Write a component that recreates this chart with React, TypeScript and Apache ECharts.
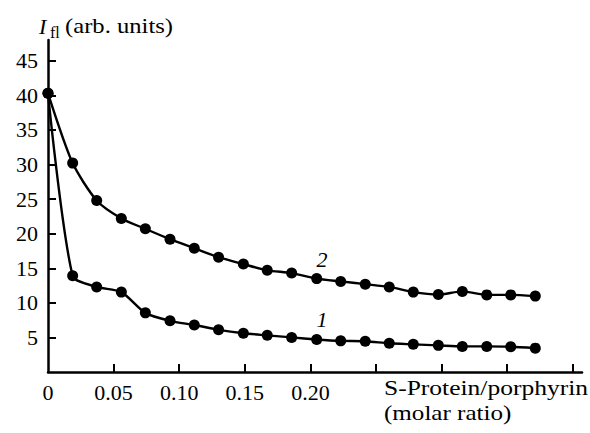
import React, { useEffect, useRef } from "react";
import * as echarts from "echarts";

const xValues = [0, 0.0188, 0.0371, 0.0559, 0.0742, 0.093, 0.1115, 0.130, 0.1489, 0.1671, 0.1857, 0.2048, 0.2231, 0.2418, 0.2601, 0.2784, 0.2975, 0.3158, 0.3344, 0.3527, 0.3714];
const series1 = [40.3, 13.9, 12.3, 11.55, 8.55, 7.4, 6.8, 6.1, 5.6, 5.3, 5.0, 4.7, 4.5, 4.45, 4.15, 4.0, 3.85, 3.7, 3.7, 3.65, 3.45];
const series2 = [40.3, 30.2, 24.8, 22.2, 20.7, 19.2, 17.9, 16.6, 15.6, 14.7, 14.3, 13.5, 13.1, 12.7, 12.3, 11.55, 11.2, 11.65, 11.15, 11.15, 10.97];
const yTicks = [5, 10, 15, 20, 25, 30, 35, 40, 45];
const xTicks = [0.05, 0.1, 0.15, 0.2, 0.25, 0.3, 0.35, 0.4];
const xLabels = [0, 0.05, 0.1, 0.15, 0.2];
const seriesNames = ["1", "2"];

const FONT = "'Liberation Serif', 'Times New Roman', serif";

export default function App() {
  const ref = useRef<HTMLDivElement>(null);
  useEffect(() => {
    if (!ref.current) return;
    const chart = echarts.init(ref.current, undefined, { renderer: "svg" });
    const mk = (vals: number[]) => xValues.map((x, i) => [x, vals[i]]);
    const lineStyle = { color: "#000", width: 2.4 };
    const txt = (text: string, x: number, y: number, size: number, extra: any = {}, scaleX = 1) => ({
      type: "text",
      x,
      y,
      scaleX,
      style: { text, fontFamily: FONT, fontSize: size, fill: "#000", verticalAlign: "middle", ...extra },
    });
    chart.setOption({
      animation: false,
      backgroundColor: "#fff",
      textStyle: { fontFamily: FONT, color: "#000" },
      grid: { left: 48, right: 8, top: 40, bottom: 61, containLabel: false },
      xAxis: {
        type: "value",
        min: 0,
        max: 0.407,
        interval: 0.05,
        splitLine: { show: false },
        axisLine: { show: true, lineStyle: { color: "#000", width: 2.5 } },
        axisTick: { show: true, inside: true, length: 8, lineStyle: { color: "#000", width: 2 }, customValues: xTicks },
        axisLabel: {
          customValues: xLabels,
          fontFamily: FONT,
          fontSize: 22,
          color: "#000",
          margin: 9,
          formatter: (v: number) => (v === 0 ? "0" : v.toFixed(2)),
        },
      },
      yAxis: {
        type: "value",
        min: 0,
        max: 48,
        interval: 5,
        splitLine: { show: false },
        axisLine: { show: true, lineStyle: { color: "#000", width: 2.5 } },
        axisTick: { show: true, inside: true, length: 8, lineStyle: { color: "#000", width: 2 }, customValues: yTicks },
        axisLabel: { customValues: yTicks, fontFamily: FONT, fontSize: 22, color: "#000", margin: 10 },
      },
      series: [
        {
          name: seriesNames[0],
          type: "line",
          data: mk(series1),
          smooth: 0.25,
          symbol: "circle",
          symbolSize: 11,
          itemStyle: { color: "#000" },
          lineStyle,
        },
        {
          name: seriesNames[1],
          type: "line",
          data: mk(series2),
          smooth: 0.25,
          symbol: "circle",
          symbolSize: 11,
          itemStyle: { color: "#000" },
          lineStyle,
        },
      ],
      graphic: [
        txt("I", 39, 26, 22, { fontStyle: "italic" }),
        txt("fl", 50, 32, 16),
        txt("(arb. units)", 65, 25, 22, {}, 1.12),
        txt("S-Protein/porphyrin", 384, 388, 22, {}, 1.16),
        txt("(molar ratio)", 384, 413, 22, {}, 1.14),
        txt(seriesNames[1], 322, 259, 22, { fontStyle: "italic", align: "center" }),
        txt(seriesNames[0], 322, 319, 22, { fontStyle: "italic", align: "center" }),
      ],
    });
    return () => chart.dispose();
  }, []);
  return <div ref={ref} style={{ width: 590, height: 433, position: "absolute", left: 0, top: 0 }} />;
}
